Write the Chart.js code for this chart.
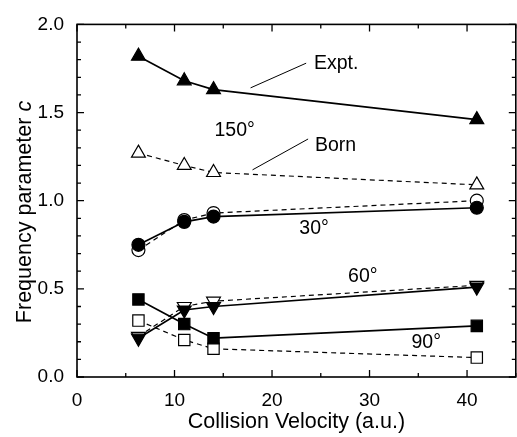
<!DOCTYPE html>
<html>
<head>
<meta charset="utf-8">
<script src="https://cdn.jsdelivr.net/npm/chart.js@4"></script>
<style>
  html, body { margin: 0; padding: 0; background: #fff; overflow: hidden; }
  #wrap { width: 517px; height: 437px; overflow: hidden; }
  #chart { display: block; }
</style>
</head>
<body>
<div id="wrap"><canvas id="chart" width="525" height="437"></canvas></div>
<script>
// Collision velocity (a.u.)
const velocity = [6.3, 11, 14, 41];

// frequency parameter c, experiment (filled) and Born (open)
const expt150 = [1.82, 1.68, 1.63, 1.46];
const born150 = [1.27, 1.20, 1.16, 1.09];
const expt30 = [0.75, 0.88, 0.91, 0.96];
const born30 = [0.72, 0.89, 0.93, 1.00];
const expt60 = [0.22, 0.38, 0.40, 0.51];
const born60 = [0.23, 0.40, 0.43, 0.52];
const expt90 = [0.44, 0.30, 0.22, 0.29];
const born90 = [0.32, 0.21, 0.16, 0.11];

const xTicks = [0, 10, 20, 30, 40];
const yTicks = [0.0, 0.5, 1.0, 1.5, 2.0];

// text labels in data coordinates
const notes = [
  { text: "Expt.", x: 24.3, y: 1.78 },
  { text: "150°", x: 14.1, y: 1.40 },
  { text: "Born", x: 24.4, y: 1.31 },
  { text: "30°", x: 22.8, y: 0.84 },
  { text: "60°", x: 27.8, y: 0.57 },
  { text: "90°", x: 34.3, y: 0.195 }
];
const leaders = [
  { x1: 17.8, y1: 1.64, x2: 23.5, y2: 1.78 },
  { x1: 18.0, y1: 1.175, x2: 23.7, y2: 1.35 }
];

const FONT = "'Liberation Sans', Arial, sans-serif";

function pts(ys) {
  return velocity.map((v, i) => ({ x: v, y: ys[i] }));
}

function series(ys, style, filled, dashed, radius, rotation) {
  return {
    data: pts(ys),
    showLine: true,
    borderColor: "#000",
    borderWidth: dashed ? 1.2 : 1.7,
    borderDash: dashed ? [5, 4] : [],
    pointStyle: style,
    pointRotation: rotation || 0,
    pointRadius: radius,
    pointBackgroundColor: filled ? "#000" : "#fff",
    pointBorderColor: "#000",
    pointBorderWidth: 1.2,
    tension: 0
  };
}

// inward ticks on all four sides and the frame
const frameTicks = {
  id: "frameTicks",
  afterDatasetsDraw(chart) {
    const { ctx, chartArea: a, scales: { x, y } } = chart;
    ctx.save();
    ctx.strokeStyle = "#000";
    ctx.lineWidth = 1.3;
    ctx.beginPath();
    for (let v = 0; v <= 45.001; v += 5) {
      const px = x.getPixelForValue(v);
      const len = Math.abs(v % 10) < 0.01 ? 7 : 4;
      ctx.moveTo(px, a.bottom); ctx.lineTo(px, a.bottom - len);
      ctx.moveTo(px, a.top); ctx.lineTo(px, a.top + len);
    }
    for (let i = 0; i <= 20; i++) {
      const py = y.getPixelForValue(i / 10);
      const len = i % 5 === 0 ? 7 : 4;
      ctx.moveTo(a.left, py); ctx.lineTo(a.left + len, py);
      ctx.moveTo(a.right, py); ctx.lineTo(a.right - len, py);
    }
    ctx.stroke();
    ctx.lineWidth = 1.6;
    ctx.strokeRect(a.left, a.top, a.right - a.left, a.bottom - a.top);
    ctx.restore();
  }
};

// annotation texts, leader lines and the y title with italic c
const labels = {
  id: "labels",
  afterDraw(chart) {
    const { ctx, scales: { x, y } } = chart;
    ctx.save();
    ctx.fillStyle = "#000";
    ctx.strokeStyle = "#000";
    ctx.lineWidth = 1;
    ctx.font = "19.5px " + FONT;
    ctx.textBaseline = "middle";
    ctx.textAlign = "left";
    notes.forEach(n => ctx.fillText(n.text, x.getPixelForValue(n.x), y.getPixelForValue(n.y)));
    ctx.beginPath();
    leaders.forEach(l => {
      ctx.moveTo(x.getPixelForValue(l.x1), y.getPixelForValue(l.y1));
      ctx.lineTo(x.getPixelForValue(l.x2), y.getPixelForValue(l.y2));
    });
    ctx.stroke();

    // y axis title
    const plain = "Frequency parameter ";
    ctx.font = "21.5px " + FONT;
    const w1 = ctx.measureText(plain).width;
    ctx.font = "italic 21.5px " + FONT;
    const w2 = ctx.measureText("c").width;
    ctx.translate(25, 212);
    ctx.rotate(-Math.PI / 2);
    const sx = -(w1 + w2) / 2;
    ctx.font = "21.5px " + FONT;
    ctx.fillText(plain, sx, 0);
    ctx.font = "italic 21.5px " + FONT;
    ctx.fillText("c", sx + w1, 0);
    ctx.restore();
  }
};

new Chart(document.getElementById("chart"), {
  type: "scatter",
  data: {
    datasets: [
      series(expt150, "triangle", true, false, 8),
      series(expt30, "circle", true, false, 6.5),
      series(expt60, "triangle", true, false, 8, 180),
      series(expt90, "rect", true, false, 8),
      series(born150, "triangle", false, true, 8),
      series(born30, "circle", false, true, 6.5),
      series(born60, "triangle", false, true, 8, 180),
      series(born90, "rect", false, true, 8)
    ]
  },
  options: {
    responsive: false,
    animation: false,
    layout: { padding: { top: 18, right: 3, left: 0, bottom: 0 } },
    plugins: { legend: { display: false }, tooltip: { enabled: false } },
    scales: {
      x: {
        type: "linear",
        min: 0,
        max: 45,
        grid: { display: false, drawTicks: false },
        border: { display: false },
        afterFit(s) { s.height = 60; },
        afterBuildTicks(s) { s.ticks = xTicks.map(v => ({ value: v })); },
        ticks: { color: "#000", font: { family: FONT, size: 19 }, padding: 12, maxRotation: 0 },
        title: {
          display: true,
          text: "Collision Velocity (a.u.)",
          color: "#000",
          font: { family: FONT, size: 21.5 },
          padding: { top: 0, bottom: 2 }
        }
      },
      y: {
        min: 0,
        max: 2,
        grid: { display: false, drawTicks: false },
        border: { display: false },
        afterFit(s) { s.width = 77; },
        afterBuildTicks(s) { s.ticks = yTicks.map(v => ({ value: v })); },
        ticks: {
          color: "#000",
          font: { family: FONT, size: 19 },
          padding: 13,
          callback: v => v.toFixed(1)
        }
      }
    }
  },
  plugins: [frameTicks, labels]
});
</script>
</body>
</html>
